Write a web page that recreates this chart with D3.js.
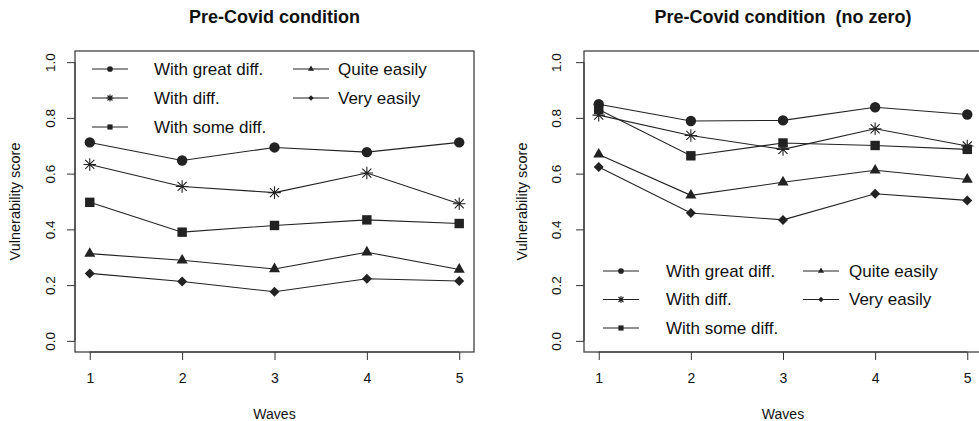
<!DOCTYPE html>
<html><head><meta charset="utf-8">
<script src="https://cdn.jsdelivr.net/npm/d3@7/dist/d3.min.js"></script>
<style>body{margin:0;background:#fff}svg{display:block}text{font-family:"Liberation Sans",Arial,sans-serif;fill:#111;white-space:pre}</style>
</head><body>
<svg id="c" width="979" height="421"></svg>
<script>
const waves = [1, 2, 3, 4, 5];
const seriesNames = ["With great diff.", "With diff.", "With some diff.", "Quite easily", "Very easily"];
const seriesShapes = ["circle", "asterisk", "square", "triangle", "diamond"];
const yTicks = [0, 0.2, 0.4, 0.6, 0.8, 1.0];
const titles = ["Pre-Covid condition", "Pre-Covid condition  (no zero)"];

const leftGreat = [0.712, 0.647, 0.694, 0.677, 0.712];
const leftDiff = [0.633, 0.554, 0.532, 0.602, 0.492];
const leftSome = [0.497, 0.390, 0.414, 0.434, 0.421];
const leftQuite = [0.313, 0.289, 0.258, 0.318, 0.256];
const leftVery = [0.242, 0.213, 0.176, 0.223, 0.215];

const rightGreat = [0.849, 0.789, 0.791, 0.838, 0.812];
const rightDiff = [0.810, 0.737, 0.687, 0.761, 0.699];
const rightSome = [0.830, 0.664, 0.710, 0.701, 0.687];
const rightQuite = [0.669, 0.522, 0.569, 0.612, 0.579];
const rightVery = [0.624, 0.459, 0.434, 0.528, 0.504];

const svg = d3.select("#c");
const col = "#222";
const FONT = '"Liberation Sans",Arial,sans-serif';

function marker(g, shape, x, y, s) {
  if (shape === "circle") {
    g.append("circle").attr("cx", x).attr("cy", y).attr("r", 5.2 * s).attr("fill", col);
  } else if (shape === "square") {
    const h = 4.7 * s;
    g.append("rect").attr("x", x - h).attr("y", y - h).attr("width", 2 * h).attr("height", 2 * h).attr("fill", col);
  } else if (shape === "triangle") {
    const r = 6.4 * s;
    const pts = [[x, y - r], [x + r * 0.866, y + r * 0.5], [x - r * 0.866, y + r * 0.5]];
    g.append("path").attr("d", "M" + pts.join("L") + "Z").attr("fill", col);
  } else if (shape === "diamond") {
    const r = 5 * s;
    g.append("path").attr("d", `M${x},${y - r}L${x + r},${y}L${x},${y + r}L${x - r},${y}Z`).attr("fill", col);
  } else if (shape === "asterisk") {
    const r = 6.3 * s, d = r * 0.72;
    g.append("path").attr("d",
      `M${x - r},${y}L${x + r},${y}M${x},${y - r}L${x},${y + r}M${x - d},${y - d}L${x + d},${y + d}M${x - d},${y + d}L${x + d},${y - d}`)
      .attr("stroke", col).attr("stroke-width", 1.1).attr("fill", "none");
  }
}

function panel(opt) {
  const { left, right, top, bottom, data, title, legend, tickOff, labOff } = opt;
  const x = d3.scaleLinear().domain([0.84, 5.16]).range([left, right]);
  const y = d3.scaleLinear().domain([-0.04, 1.04]).range([bottom, top]);
  const g = svg.append("g");

  g.append("text").attr("x", (left + right) / 2).attr("y", 22.5).attr("text-anchor", "middle")
    .style("font-weight", "bold").style("font-size", "18px").text(title);

  g.append("rect").attr("x", left).attr("y", top).attr("width", right - left).attr("height", bottom - top)
    .attr("fill", "none").attr("stroke", "#333").attr("stroke-width", 1.2);

  const xa = g.append("g").attr("transform", `translate(0,${bottom})`)
    .call(d3.axisBottom(x).tickValues(waves).tickFormat(d3.format("d")).tickSize(8).tickPadding(13).tickSizeOuter(0));
  xa.select(".domain").attr("d", `M${x(1)},0H${x(5)}`).attr("stroke", "#333");
  xa.selectAll(".tick line").attr("stroke", "#333");
  xa.selectAll("text").style("font-size", "14px").attr("fill", "#111").style("font-family", FONT);

  const ya = g.append("g").attr("transform", `translate(${left},0)`)
    .call(d3.axisLeft(y).tickValues(yTicks).tickFormat(d3.format(".1f")).tickSize(8).tickSizeOuter(0));
  ya.select(".domain").attr("d", `M0,${y(0)}V${y(1)}`).attr("stroke", "#333");
  ya.selectAll(".tick line").attr("stroke", "#333");
  ya.selectAll(".tick text").attr("x", null).attr("dy", null).attr("y", 0).attr("text-anchor", "middle")
    .attr("transform", `translate(${tickOff},0) rotate(-90)`)
    .style("font-size", "13.5px").attr("fill", "#111").style("font-family", FONT);

  g.append("text").attr("x", (left + right) / 2).attr("y", 419).attr("text-anchor", "middle")
    .style("font-size", "14px").text("Waves");
  g.append("text").attr("transform", `translate(${left + labOff},${(top + bottom) / 2}) rotate(-90)`)
    .attr("text-anchor", "middle").style("font-size", "14.5px").text("Vulnerability score");

  const line = d3.line().x((d, i) => x(waves[i])).y(d => y(d));
  data.forEach((vals, si) => {
    g.append("path").attr("d", line(vals)).attr("fill", "none").attr("stroke", col).attr("stroke-width", 1.1);
    vals.forEach((v, i) => marker(g, seriesShapes[si], x(waves[i]), y(v), 1));
  });

  const lg = g.append("g");
  const pos = [[0, 0], [0, 1], [0, 2], [1, 0], [1, 1]];
  seriesNames.forEach((name, si) => {
    const [c, r] = pos[si];
    const lx = legend.cols[c], ly = legend.y + r * legend.dy;
    lg.append("line").attr("x1", lx).attr("x2", lx + 36).attr("y1", ly).attr("y2", ly)
      .attr("stroke", col).attr("stroke-width", 1.1);
    marker(lg, seriesShapes[si], lx + 18, ly, 0.55);
    lg.append("text").attr("x", lx + legend.textOff[c]).attr("y", ly + 5.8).style("font-size", "17px").text(name);
  });
}

panel({ left: 75, right: 474, top: 51, bottom: 352, tickOff: -20, labOff: -55,
  data: [leftGreat, leftDiff, leftSome, leftQuite, leftVery], title: titles[0],
  legend: { cols: [92, 293], y: 69, dy: 29, textOff: [62, 45] } });
panel({ left: 584, right: 982, top: 51, bottom: 352, tickOff: -23, labOff: -57,
  data: [rightGreat, rightDiff, rightSome, rightQuite, rightVery], title: titles[1],
  legend: { cols: [603, 803], y: 271, dy: 28.5, textOff: [63, 46] } });
</script>
</body></html>
